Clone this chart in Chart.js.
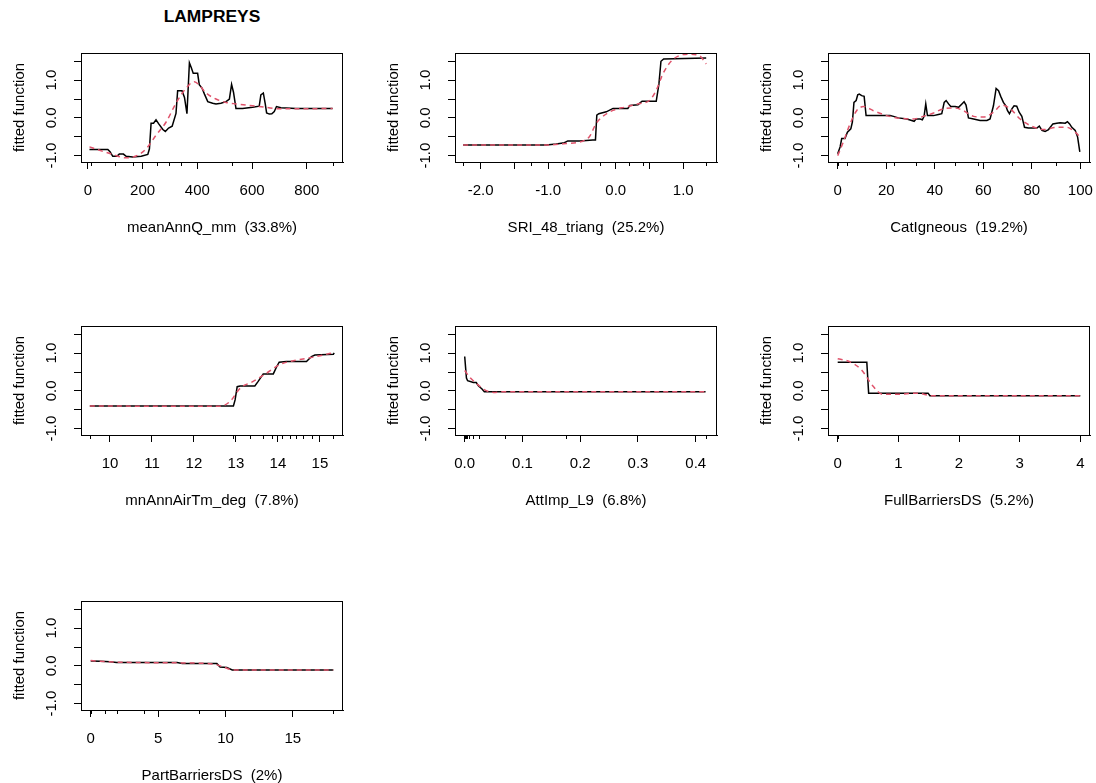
<!DOCTYPE html>
<html>
<head>
<meta charset="utf-8">
<script src="https://cdn.jsdelivr.net/npm/chart.js@4.4.1/dist/chart.umd.min.js"></script>
<style>
  html, body { margin: 0; padding: 0; background: #fff; overflow: hidden; }
  #page { position: relative; width: 1096px; height: 783px; overflow: hidden; }
  #page canvas { position: absolute; }
  #mainTitle {
    position: absolute; left: 112px; top: 6px; width: 200px; height: 22px; line-height: 22px;
    text-align: center; font: bold 17.4px "Liberation Sans", Arial, sans-serif; color: #000;
  }
</style>
</head>
<body>
<div id="page">
  <div id="mainTitle">LAMPREYS</div>
</div>
<script>
// Partial dependence plots - LAMPREYS

// panel titles
const varNames = ['meanAnnQ_mm', 'SRI_48_triang', 'CatIgneous', 'mnAnnAirTm_deg', 'AttImp_L9', 'FullBarriersDS', 'PartBarriersDS'];
const varPercents = ['33.8%', '25.2%', '19.2%', '7.8%', '6.8%', '5.2%', '2%'];

// y axis (shared)
const yTicks = [-1, -0.5, 0, 0.5, 1, 1.5];
const yTickLabels = ['-1.0', '', '0.0', '', '1.0', ''];

// meanAnnQ_mm
const meanAnnQX = [6, 73, 81, 91, 106, 115, 130, 140, 164, 195, 219, 225, 231, 240, 249, 259, 274, 283, 295, 308, 322, 328, 344, 353, 362, 371, 378, 385, 401, 407, 417, 426, 438, 456, 468, 486, 505, 517, 525, 532, 541, 565, 602, 626, 632, 641, 648, 653, 663, 672, 681, 689, 705, 760, 894];
const meanAnnQFit = [-0.84, -0.84, -0.9, -1.02, -1.02, -0.96, -0.96, -1.02, -1.04, -1.02, -0.97, -0.82, -0.14, -0.14, -0.05, -0.16, -0.31, -0.36, -0.27, -0.22, 0.12, 0.72, 0.72, 0.54, 0.11, 1.46, 1.33, 1.18, 1.18, 0.88, 0.79, 0.63, 0.43, 0.39, 0.37, 0.39, 0.43, 0.5, 0.89, 0.68, 0.25, 0.25, 0.28, 0.31, 0.61, 0.66, 0.37, 0.13, 0.1, 0.11, 0.17, 0.3, 0.27, 0.25, 0.25];
const meanAnnQSmoothX = [6, 43, 91, 140, 176, 213, 249, 286, 322, 358, 389, 407, 432, 468, 505, 541, 602, 650, 699, 760, 894];
const meanAnnQSmooth = [-0.77, -0.86, -0.97, -1.06, -1.01, -0.82, -0.46, -0.11, 0.39, 0.78, 0.96, 0.87, 0.66, 0.5, 0.41, 0.37, 0.32, 0.28, 0.24, 0.24, 0.25];
const meanAnnQRug = [10, 101, 164, 252, 295, 340, 526, 895];
const meanAnnQTicks = [0, 200, 400, 600, 800];
const meanAnnQLabels = ['0', '200', '400', '600', '800'];

// SRI_48_triang
const sriX = [-2.26, -1.03, -0.88, -0.76, -0.71, -0.53, -0.34, -0.3, -0.28, -0.25, -0.14, -0.04, 0.01, 0.18, 0.21, 0.33, 0.39, 0.6, 0.64, 0.67, 0.71, 1.34];
const sriFit = [-0.72, -0.72, -0.69, -0.66, -0.61, -0.61, -0.59, -0.59, 0.07, 0.11, 0.16, 0.25, 0.25, 0.25, 0.33, 0.35, 0.44, 0.44, 0.9, 1.5, 1.56, 1.59];
const sriSmoothX = [-2.26, -1.03, -0.73, -0.51, -0.39, -0.29, -0.19, -0.04, 0.15, 0.35, 0.5, 0.6, 0.7, 0.82, 0.94, 1.09, 1.24, 1.34];
const sriSmooth = [-0.72, -0.72, -0.68, -0.63, -0.5, -0.15, 0.04, 0.2, 0.29, 0.38, 0.46, 0.73, 1.17, 1.5, 1.65, 1.69, 1.65, 1.43];
const sriRug = [-2.26, -1.25, -0.77, -0.24, 0.19, 0.4, 1.34];
const sriTicks = [-2, -1.5, -1, -0.5, 0, 0.5, 1];
const sriLabels = ['-2.0', '', '-1.0', '', '0.0', '', '1.0'];

// CatIgneous
const catIgnX = [0, 1, 1.65, 3, 4, 5.4, 6.05, 6.7, 7.6, 8.25, 8.9, 9.9, 10.9, 11.7, 13.3, 21.6, 23, 25, 28.5, 30.5, 31.5, 32.3, 34, 34.9, 35.6, 36.3, 37, 39.5, 41.5, 42.9, 43.9, 44.7, 45.7, 46.6, 48.4, 49.8, 51.2, 52.1, 52.9, 53.9, 56, 58.7, 61.5, 62.8, 64.2, 65.3, 66.3, 67.2, 68.3, 69.3, 70, 70.8, 71.8, 72.7, 73.8, 74.8, 75.9, 77, 78.6, 82.1, 83.1, 84.2, 85.5, 86.9, 88.7, 90.3, 91.7, 93.8, 94.7, 95.6, 96.5, 97.9, 98.9, 99.8];
const catIgnFit = [-0.95, -0.77, -0.55, -0.55, -0.38, -0.29, -0.11, 0.41, 0.46, 0.61, 0.63, 0.59, 0.57, 0.06, 0.06, 0.06, 0.04, 0, -0.03, -0.07, -0.09, -0.03, -0.03, -0.05, 0.04, 0.37, 0.06, 0.06, 0.09, 0.11, 0.41, 0.46, 0.37, 0.3, 0.3, 0.28, 0.37, 0.43, 0.34, 0, -0.03, -0.07, -0.07, -0.03, 0.32, 0.78, 0.72, 0.57, 0.41, 0.32, 0.19, 0.11, 0.24, 0.32, 0.31, 0.15, 0.04, -0.25, -0.27, -0.27, -0.22, -0.33, -0.36, -0.31, -0.16, -0.14, -0.13, -0.14, -0.1, -0.16, -0.25, -0.33, -0.51, -0.9];
const catIgnSmoothX = [0, 2.3, 5.1, 7.8, 10.6, 14.7, 20.2, 25.7, 31.2, 35.3, 39.5, 43.6, 48.4, 51.8, 56, 60, 64.2, 67.7, 71.1, 75.2, 79.3, 84.8, 90.3, 94.4, 97.9, 100];
const catIgnSmooth = [-1, -0.64, -0.16, 0.19, 0.3, 0.19, 0.06, -0.01, -0.03, 0.04, 0.13, 0.24, 0.26, 0.19, 0.04, 0.02, 0.15, 0.34, 0.24, -0.03, -0.2, -0.31, -0.25, -0.25, -0.38, -0.51];
const catIgnRug = [0, 3.7, 23, 32.3, 48.4, 58, 71.8, 89.8, 100];
const catIgnTicks = [0, 20, 40, 60, 80, 100];
const catIgnLabels = ['0', '20', '40', '60', '80', '100'];

// mnAnnAirTm_deg
const airTmX = [9.52, 12.94, 12.98, 13.03, 13.1, 13.45, 13.53, 13.65, 13.89, 13.97, 14.03, 14.2, 14.68, 14.8, 14.88, 15.32, 15.34];
const airTmFit = [-0.4, -0.4, -0.24, 0.11, 0.13, 0.13, 0.25, 0.45, 0.45, 0.64, 0.76, 0.78, 0.78, 0.91, 0.95, 0.97, 1.01];
const airTmSmoothX = [9.52, 12.14, 12.62, 12.86, 13.1, 13.41, 13.73, 14.05, 14.37, 14.68, 15.0, 15.34];
const airTmSmooth = [-0.4, -0.41, -0.41, -0.28, 0.07, 0.25, 0.47, 0.7, 0.8, 0.86, 0.93, 1.02];
const airTmRug = [9.52, 12.94, 13.33, 13.65, 13.85, 14.09, 14.29, 14.44, 14.6, 14.8, 15.32];
const airTmTicks = [10, 11, 12, 13, 14, 15];
const airTmLabels = ['10', '11', '12', '13', '14', '15'];

// AttImp_L9
const attImpX = [0, 0.003, 0.005, 0.015, 0.02, 0.024, 0.03, 0.034, 0.05, 0.417];
const attImpFit = [0.91, 0.34, 0.27, 0.22, 0.22, 0.13, 0.05, -0.02, -0.02, -0.02];
const attImpSmoothX = [0, 0.01, 0.021, 0.033, 0.05, 0.067, 0.417];
const attImpSmooth = [0.54, 0.34, 0.19, 0.04, -0.04, -0.02, -0.02];
const attImpRug = [0, 0.002, 0.004, 0.008, 0.015, 0.025, 0.07, 0.176, 0.417];
const attImpTicks = [0, 0.1, 0.2, 0.3, 0.4];
const attImpLabels = ['0.0', '0.1', '0.2', '0.3', '0.4'];

// FullBarriersDS
const fullBarX = [0, 0.48, 0.51, 1.49, 1.52, 4];
const fullBarFit = [0.76, 0.76, -0.06, -0.06, -0.13, -0.13];
const fullBarSmoothX = [0, 0.19, 0.39, 0.58, 0.74, 0.97, 1.3, 1.57, 4];
const fullBarSmooth = [0.85, 0.78, 0.56, 0.13, -0.09, -0.09, -0.06, -0.13, -0.13];
const fullBarRug = [0, 1, 2, 4];
const fullBarTicks = [0, 1, 2, 3, 4];
const fullBarLabels = ['0', '1', '2', '3', '4'];

// PartBarriersDS
const partBarX = [0, 0.69, 1.44, 1.93, 6.4, 6.8, 9.36, 9.6, 10.1, 10.5, 18];
const partBarFit = [0.13, 0.12, 0.11, 0.09, 0.09, 0.06, 0.06, -0.03, -0.04, -0.11, -0.11];
const partBarSmoothX = [0, 1.93, 6.4, 9.1, 9.85, 10.6, 18];
const partBarSmooth = [0.14, 0.1, 0.08, 0.05, -0.03, -0.11, -0.11];
const partBarRug = [0, 1.06, 1.93, 3.96, 8, 18];
const partBarTicks = [0, 5, 10, 15];
const partBarLabels = ['0', '5', '10', '15'];

const FONT = '"Liberation Sans", Arial, sans-serif';
const FONT_SIZE = 15;
const RED = '#DF536B';

// box position of each panel (left, top) and size
const colLefts = [81, 455, 828];
const rowTops = [53, 326, 601];
const BOX_W = 262;
const BOX_H = 109;

const panels = [
  { x: meanAnnQX, fit: meanAnnQFit, sx: meanAnnQSmoothX, smooth: meanAnnQSmooth, rug: meanAnnQRug, ticks: meanAnnQTicks, labels: meanAnnQLabels, min: -25, max: 932 },
  { x: sriX, fit: sriFit, sx: sriSmoothX, smooth: sriSmooth, rug: sriRug, ticks: sriTicks, labels: sriLabels, min: -2.38, max: 1.5 },
  { x: catIgnX, fit: catIgnFit, sx: catIgnSmoothX, smooth: catIgnSmooth, rug: catIgnRug, ticks: catIgnTicks, labels: catIgnLabels, min: -4, max: 104 },
  { x: airTmX, fit: airTmFit, sx: airTmSmoothX, smooth: airTmSmooth, rug: airTmRug, ticks: airTmTicks, labels: airTmLabels, min: 9.31, max: 15.55 },
  { x: attImpX, fit: attImpFit, sx: attImpSmoothX, smooth: attImpSmooth, rug: attImpRug, ticks: attImpTicks, labels: attImpLabels, min: -0.0168, max: 0.4368 },
  { x: fullBarX, fit: fullBarFit, sx: fullBarSmoothX, smooth: fullBarSmooth, rug: fullBarRug, ticks: fullBarTicks, labels: fullBarLabels, min: -0.16, max: 4.16 },
  { x: partBarX, fit: partBarFit, sx: partBarSmoothX, smooth: partBarSmooth, rug: partBarRug, ticks: partBarTicks, labels: partBarLabels, min: -0.72, max: 18.72 },
];

const PAD_LEFT = 81;
const PAD_TOP = 45;
const CANVAS_W = 348;
const CANVAS_H = 235;

// box, rug, rotated y labels and axis titles
const decorPlugin = {
  id: 'decor',
  afterDraw(chart, args, opts) {
    const { ctx, chartArea: a } = chart;
    const xs = chart.scales.x;
    const ys = chart.scales.y;
    ctx.save();
    ctx.strokeStyle = '#000';
    ctx.lineWidth = 1;
    ctx.strokeRect(a.left + 0.5, a.top + 0.5, a.right - a.left - 1, a.bottom - a.top);

    // rug
    ctx.beginPath();
    opts.rug.forEach((v) => {
      const px = Math.round(xs.getPixelForValue(v)) + 0.5;
      ctx.moveTo(px, a.bottom);
      ctx.lineTo(px, a.bottom + 4);
    });
    ctx.stroke();

    ctx.fillStyle = '#000';
    ctx.font = FONT_SIZE + 'px ' + FONT;
    ctx.textAlign = 'center';
    ctx.textBaseline = 'alphabetic';

    // y tick labels (rotated like R)
    yTicks.forEach((v, i) => {
      if (!yTickLabels[i]) return;
      ctx.save();
      ctx.translate(a.left - 25, ys.getPixelForValue(v));
      ctx.rotate(-Math.PI / 2);
      ctx.fillText(yTickLabels[i], 0, 0);
      ctx.restore();
    });

    // y title
    ctx.save();
    ctx.translate(a.left - 57, (a.top + a.bottom) / 2);
    ctx.rotate(-Math.PI / 2);
    ctx.fillText('fitted function', 0, 0);
    ctx.restore();

    // x title
    ctx.fillText(opts.title, (a.left + a.right) / 2, a.bottom + 70);
    ctx.restore();
  },
};

const page = document.getElementById('page');

panels.forEach((p, i) => {
  const col = i % 3;
  const row = Math.floor(i / 3);
  const canvas = document.createElement('canvas');
  canvas.width = CANVAS_W;
  canvas.height = CANVAS_H;
  canvas.style.left = colLefts[col] - PAD_LEFT + 'px';
  canvas.style.top = rowTops[row] - PAD_TOP + 'px';
  page.appendChild(canvas);

  new Chart(canvas, {
    type: 'line',
    data: {
      datasets: [
        {
          data: p.sx.map((x, k) => ({ x: x, y: p.smooth[k] })),
          borderColor: RED,
          borderWidth: 1.5,
          borderDash: [5, 4],
          cubicInterpolationMode: 'monotone',
          pointRadius: 0,
          fill: false,
        },
        {
          data: p.x.map((x, k) => ({ x: x, y: p.fit[k] })),
          borderColor: '#000',
          borderWidth: 1.5,
          tension: 0,
          pointRadius: 0,
          fill: false,
        },
      ],
    },
    options: {
      responsive: false,
      animation: false,
      layout: { padding: { left: 0, top: PAD_TOP, right: CANVAS_W - PAD_LEFT - BOX_W, bottom: 0 } },
      plugins: {
        legend: { display: false },
        tooltip: { enabled: false },
        decor: { rug: p.rug, title: varNames[i] + '  (' + varPercents[i] + ')' },
      },
      scales: {
        x: {
          type: 'linear',
          min: p.min,
          max: p.max,
          afterFit: (s) => {
            s.height = CANVAS_H - PAD_TOP - BOX_H;
            s.paddingLeft = 0;
            s.paddingRight = 0;
          },
          afterBuildTicks: (s) => { s.ticks = p.ticks.map((v) => ({ value: v })); },
          grid: { drawOnChartArea: false, drawTicks: true, tickLength: 7, tickColor: '#000', color: '#000' },
          border: { display: true, color: '#000', width: 1 },
          ticks: {
            autoSkip: false,
            maxRotation: 0,
            minRotation: 0,
            padding: 13,
            color: '#000',
            font: { family: FONT, size: FONT_SIZE },
            callback: (v, k) => p.labels[k],
          },
        },
        y: {
          type: 'linear',
          min: -1.17,
          max: 1.72,
          afterFit: (s) => {
            s.width = PAD_LEFT;
            s.paddingTop = 0;
            s.paddingBottom = 0;
          },
          afterBuildTicks: (s) => { s.ticks = yTicks.map((v) => ({ value: v })); },
          grid: { drawOnChartArea: false, drawTicks: true, tickLength: 7, tickColor: '#000', color: '#000' },
          border: { display: true, color: '#000', width: 1 },
          ticks: { display: false },
        },
      },
    },
    plugins: [decorPlugin],
  });
});
</script>
</body>
</html>
